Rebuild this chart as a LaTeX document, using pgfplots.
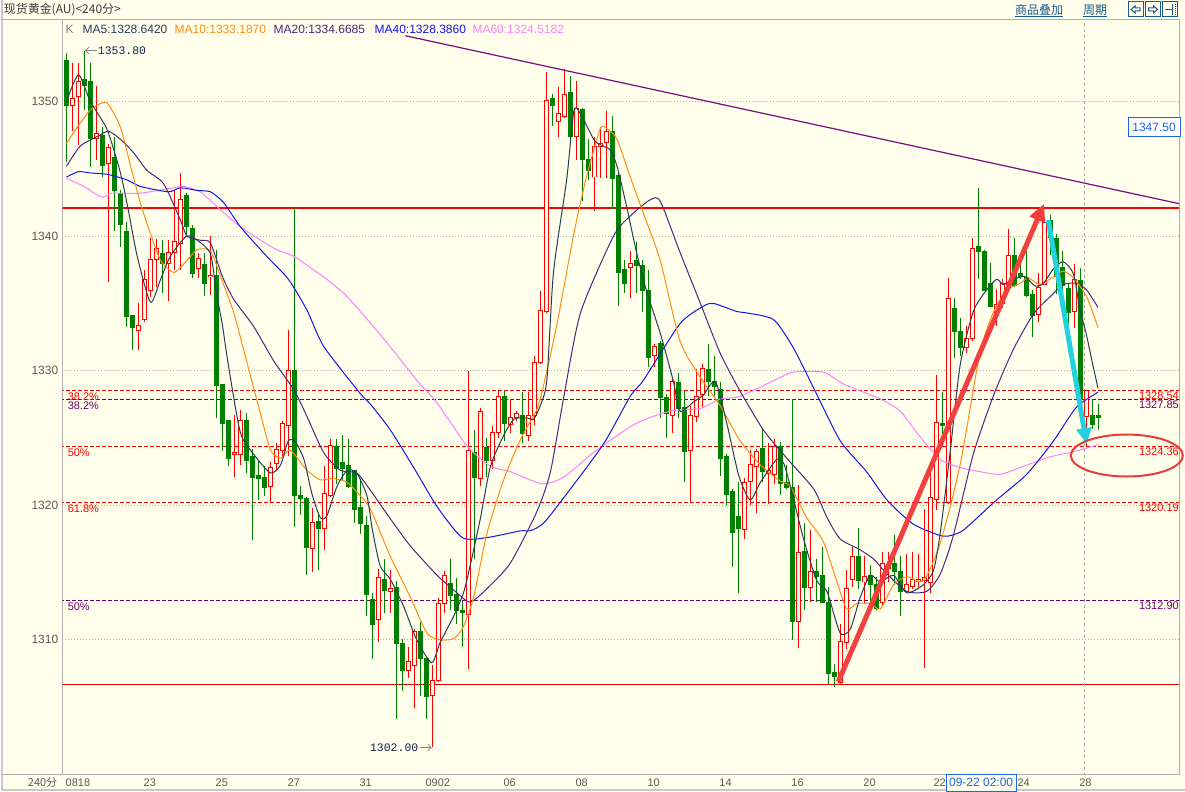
\documentclass[border=0pt]{standalone}
\usepackage{fontspec}
\setmainfont{Liberation Sans}
\newfontfamily\cjk{Noto Sans CJK SC}
\newfontfamily\mono{Liberation Mono}
\usepackage{pgfplots}
\pgfplotsset{compat=1.18}
\usepackage{pgfplotstable}
\usetikzlibrary{arrows.meta}

\definecolor{bg}{RGB}{255,255,236}
\definecolor{frame}{RGB}{200,200,200}
\definecolor{axgray}{RGB}{176,176,176}
\definecolor{tickgray}{RGB}{90,90,90}
\definecolor{up}{RGB}{255,0,0}
\definecolor{dn}{RGB}{0,128,0}
\definecolor{ma5}{RGB}{40,60,90}
\definecolor{ma10}{RGB}{255,140,20}
\definecolor{ma20}{RGB}{75,40,130}
\definecolor{ma40}{RGB}{20,20,235}
\definecolor{ma60}{RGB}{255,128,255}
\definecolor{lvpurple}{RGB}{110,0,110}
\definecolor{trend}{RGB}{125,10,125}
\definecolor{btn}{RGB}{25,90,140}
\definecolor{navy}{RGB}{15,35,80}
\definecolor{cursor}{RGB}{30,100,230}
\definecolor{arrowred}{RGB}{242,64,64}
\definecolor{cyanarrow}{RGB}{35,210,222}
\definecolor{hdr}{RGB}{60,60,60}

\newcommand\pxa{\fontsize{9}{10}\selectfont}
\newcommand\pxb{\fontsize{8.25}{9}\selectfont}

% 240-minute candles, red = close above open
\pgfplotstableread{
i o h l c
1 1349.70 1352.85 1347.85 1350.25
2 1350.37 1352.90 1346.78 1351.49
5 1347.28 1351.16 1345.67 1347.62
7 1345.37 1346.86 1336.58 1346.61
12 1332.98 1335.03 1331.57 1333.33
13 1333.84 1337.50 1333.59 1336.76
14 1336.00 1339.90 1335.50 1338.30
15 1338.29 1339.78 1336.26 1339.10
17 1338.00 1339.73 1335.15 1338.80
18 1338.81 1343.44 1337.50 1339.58
19 1339.48 1344.68 1337.50 1342.75
22 1337.62 1338.74 1336.88 1338.37
24 1337.00 1339.98 1335.64 1337.10
28 1323.80 1326.70 1322.10 1323.90
29 1323.80 1327.06 1322.96 1326.30
34 1321.37 1323.20 1320.14 1322.83
35 1323.10 1324.65 1322.65 1324.14
36 1324.10 1326.30 1323.70 1326.10
37 1325.95 1333.05 1323.70 1330.04
41 1316.78 1319.82 1315.07 1318.71
43 1318.28 1322.90 1316.67 1320.86
44 1320.70 1324.90 1320.60 1324.47
52 1311.52 1315.24 1309.86 1314.60
54 1313.60 1315.20 1312.00 1313.80
57 1307.75 1309.50 1307.20 1308.40
58 1308.10 1310.80 1304.90 1310.60
61 1305.90 1308.10 1302.00 1307.00
62 1307.00 1313.10 1306.90 1312.70
63 1312.70 1315.10 1312.00 1314.80
67 1311.90 1330.00 1307.80 1324.10
69 1322.00 1327.20 1321.40 1327.00
71 1323.30 1325.90 1322.70 1325.40
72 1325.40 1328.50 1325.00 1328.06
74 1326.00 1327.90 1325.40 1326.50
75 1326.50 1327.00 1326.30 1326.80
77 1325.20 1328.40 1324.80 1326.70
78 1326.70 1331.10 1326.00 1330.60
79 1330.60 1335.90 1330.50 1334.50
80 1334.40 1352.20 1334.30 1350.10
82 1348.50 1351.10 1347.40 1349.10
83 1348.90 1352.40 1348.80 1350.50
85 1347.40 1351.50 1345.70 1349.50
88 1344.40 1347.40 1341.90 1346.70
89 1346.70 1348.10 1344.30 1346.90
90 1347.00 1349.30 1344.30 1347.80
94 1337.70 1338.90 1335.40 1338.00
98 1331.10 1332.00 1330.30 1331.80
101 1326.70 1329.50 1325.40 1329.20
104 1324.10 1327.40 1320.20 1326.70
105 1326.60 1330.10 1326.20 1328.10
106 1328.20 1330.50 1327.30 1330.20
113 1318.20 1322.00 1317.50 1321.70
114 1321.80 1324.10 1320.00 1323.00
115 1322.90 1324.20 1319.40 1324.00
117 1322.40 1324.60 1320.10 1322.60
118 1322.30 1324.90 1321.60 1324.40
122 1311.40 1321.50 1309.40 1316.50
124 1313.90 1318.20 1312.80 1315.10
129 1306.80 1311.20 1306.70 1309.90
130 1309.80 1315.20 1309.30 1313.80
131 1314.50 1316.90 1313.90 1316.20
133 1314.30 1316.20 1312.70 1314.70
136 1312.80 1316.50 1312.60 1315.70
137 1315.30 1316.50 1314.30 1315.60
140 1313.60 1316.40 1313.50 1314.10
141 1314.00 1316.50 1313.80 1314.50
142 1314.30 1316.40 1313.90 1314.50
143 1314.40 1319.70 1307.90 1314.60
144 1314.24 1322.46 1313.50 1320.55
145 1320.43 1329.71 1319.67 1326.12
147 1320.20 1336.90 1320.10 1335.40
150 1331.70 1333.30 1331.30 1332.40
151 1332.40 1339.90 1332.20 1339.10
155 1334.10 1336.10 1333.30 1334.90
156 1335.00 1336.80 1334.70 1336.50
157 1336.40 1340.50 1336.30 1338.60
162 1334.20 1337.30 1333.60 1336.20
163 1336.40 1341.20 1336.40 1341.00
168 1334.40 1337.90 1333.20 1336.80
170 1326.60 1328.60 1324.40 1328.50
}\tabup

\pgfplotstableread{
i o h l c
0 1353.09 1353.59 1345.54 1349.70
3 1351.61 1353.80 1349.40 1351.19
4 1351.53 1352.85 1345.17 1347.28
6 1347.50 1348.14 1344.38 1345.25
8 1345.84 1347.35 1340.35 1343.37
9 1343.19 1343.44 1339.18 1340.84
10 1340.35 1341.09 1333.24 1334.04
11 1334.09 1334.10 1331.57 1333.22
16 1338.70 1339.73 1335.77 1338.00
20 1343.02 1343.19 1339.98 1340.72
21 1340.59 1340.84 1336.88 1337.25
23 1337.87 1338.74 1335.52 1336.51
25 1337.05 1339.00 1326.50 1328.90
26 1328.96 1329.00 1324.02 1326.07
27 1326.30 1326.30 1322.90 1323.45
30 1326.30 1326.87 1322.40 1323.30
31 1323.62 1324.15 1317.40 1322.10
32 1322.24 1323.40 1320.40 1322.00
33 1322.05 1322.90 1320.70 1321.30
38 1330.04 1342.13 1318.40 1320.76
39 1320.70 1321.40 1319.30 1320.50
40 1320.50 1320.65 1314.82 1316.85
42 1318.78 1319.45 1315.20 1318.30
45 1324.40 1324.94 1321.60 1322.70
46 1323.20 1325.25 1321.80 1322.70
47 1322.95 1324.94 1321.30 1321.41
48 1322.58 1322.65 1318.70 1319.68
49 1319.85 1321.80 1317.90 1318.65
50 1318.50 1319.20 1311.80 1313.37
51 1312.99 1313.50 1308.60 1311.13
53 1314.50 1315.98 1312.00 1313.70
55 1313.90 1314.40 1304.10 1309.70
56 1309.70 1310.10 1306.20 1307.70
59 1310.60 1311.30 1305.80 1308.60
60 1308.60 1308.60 1304.10 1305.80
64 1314.20 1316.00 1312.20 1313.30
65 1313.40 1314.60 1311.20 1312.20
66 1312.20 1312.90 1309.50 1312.00
68 1323.90 1325.60 1316.00 1322.10
70 1324.30 1325.00 1322.10 1323.30
73 1328.10 1328.50 1324.80 1326.10
76 1326.70 1328.40 1324.60 1325.30
81 1350.20 1350.60 1348.20 1349.70
84 1350.70 1351.90 1347.00 1347.40
86 1349.40 1349.50 1342.60 1345.70
87 1345.70 1347.20 1344.20 1344.90
91 1347.80 1348.90 1342.00 1344.30
92 1344.50 1344.70 1334.80 1337.30
93 1337.50 1338.20 1335.80 1336.50
95 1338.20 1339.60 1335.80 1337.80
96 1337.80 1338.20 1334.40 1336.00
97 1336.00 1337.50 1330.30 1331.00
99 1332.00 1332.20 1326.50 1328.00
100 1328.00 1328.30 1325.00 1326.80
102 1329.10 1329.80 1326.50 1327.20
103 1327.30 1328.50 1321.70 1324.00
107 1330.10 1332.00 1328.10 1329.20
108 1329.20 1331.10 1328.10 1328.80
109 1328.60 1329.20 1322.20 1323.50
110 1323.60 1323.80 1320.00 1320.80
111 1321.00 1321.20 1315.40 1318.00
112 1319.20 1321.70 1313.50 1318.30
116 1324.20 1325.70 1321.70 1322.50
119 1324.40 1324.70 1320.80 1321.60
120 1321.70 1323.00 1321.20 1321.30
121 1321.30 1327.90 1310.00 1311.40
123 1316.60 1318.70 1312.20 1313.90
125 1315.10 1316.00 1312.80 1314.70
126 1314.80 1316.90 1312.80 1312.80
127 1312.80 1313.90 1306.70 1307.50
128 1307.60 1308.20 1306.50 1307.30
132 1316.20 1318.30 1313.80 1314.40
134 1314.80 1315.60 1312.80 1314.10
135 1314.10 1314.70 1312.20 1312.30
138 1315.70 1317.80 1314.10 1315.10
139 1315.10 1316.20 1311.80 1313.60
146 1326.10 1328.40 1324.40 1325.95
148 1334.66 1335.40 1330.95 1332.93
149 1332.90 1333.90 1331.10 1331.70
152 1339.20 1343.60 1336.80 1338.90
153 1338.90 1339.00 1336.00 1336.00
154 1336.50 1338.00 1334.80 1334.80
158 1338.60 1339.90 1336.20 1336.30
159 1337.20 1338.00 1336.80 1337.00
160 1336.90 1338.90 1335.50 1335.60
161 1335.70 1336.00 1332.50 1334.10
164 1341.20 1341.60 1338.60 1339.90
165 1339.80 1340.20 1335.70 1337.00
166 1337.70 1338.90 1335.60 1336.30
167 1336.10 1336.50 1333.40 1334.30
169 1336.70 1337.60 1327.70 1327.90
171 1326.66 1327.80 1325.67 1325.99
172 1326.66 1327.55 1325.57 1326.49
}\tabdn

\begin{document}
\begin{tikzpicture}
% frame, drawn in pixel units (y downwards)
\begin{scope}[x=0.75pt,y=-0.75pt,shift={(0pt,593.25pt)}]
  \fill[bg] (0,0) rectangle (1185,791);
  \fill[frame] (0,0) rectangle (3,791);
  \fill[frame] (0,789) rectangle (1185,791);
  \draw[axgray,line width=0.75pt] (0,20) -- (1179,20);
  \draw[axgray,line width=0.75pt] (0,775) -- (1179,775);
\end{scope}

\begin{axis}[
  at={(46.5pt,12pt)}, anchor=south west,
  scale only axis, width=837.75pt, height=566.25pt,
  xmin=-0.667, xmax=185.5, ymin=1299.98, ymax=1356.07,
  axis line style={draw=axgray,line width=0.75pt},
  major tick length=0pt,
  ytick={1310,1320,1330,1340,1350},
  ymajorgrids,
  grid style={axgray,line width=0.75pt,dash pattern=on 0.75pt off 1.5pt},
  /pgf/number format/assume math mode=true,
  /pgf/number format/1000 sep={},
  yticklabel style={font=\pxa,text=tickgray,anchor=east,inner sep=0pt,xshift=-3pt},
  xtick={0,13,25,37,49,60,73,85,97,109,121,133,144.7,158.7,169},
  xticklabels={0818,23,25,27,31,0902,06,08,10,14,16,20,22,24,28},
  xticklabel style={font=\pxb,text=tickgray,anchor=west,inner sep=0pt,xshift=-0.75pt,yshift=-6pt},
]
% level lines
\addplot[up,line width=1pt,forget plot] coordinates {(-1,1342.1) (186,1342.1)};
\addplot[up!90!black,line width=0.75pt,forget plot] coordinates {(-1,1306.7) (186,1306.7)};
\addplot[up,line width=0.75pt,dash pattern=on 3pt off 1.5pt,forget plot] coordinates {(-1,1328.54) (186,1328.54)};
\addplot[lvpurple,line width=0.75pt,dash pattern=on 3pt off 1.5pt,forget plot] coordinates {(-1,1327.85) (186,1327.85)};
\addplot[up,line width=0.75pt,dash pattern=on 3pt off 1.5pt,forget plot] coordinates {(-1,1324.36) (186,1324.36)};
\addplot[up,line width=0.75pt,dash pattern=on 3pt off 1.5pt,forget plot] coordinates {(-1,1320.19) (186,1320.19)};
\addplot[lvpurple,line width=0.75pt,dash pattern=on 3pt off 1.5pt,forget plot] coordinates {(-1,1312.90) (186,1312.90)};
\addplot[gray!70,line width=0.75pt,dash pattern=on 2.25pt off 2.25pt,forget plot] coordinates {(169.67,1299) (169.67,1357)};

% wicks
\addplot[forget plot,draw=none,mark=none,error bars/.cd,y dir=plus,y explicit,error mark=none,
  error bar style={draw=up,line width=0.75pt}]
  table[x=i,y=l,y error expr={\thisrow{h}-\thisrow{l}}] {\tabup};
\addplot[forget plot,draw=none,mark=none,error bars/.cd,y dir=plus,y explicit,error mark=none,
  error bar style={draw=dn,line width=0.75pt}]
  table[x=i,y=l,y error expr={\thisrow{h}-\thisrow{l}}] {\tabdn};
% bodies
\addplot[forget plot,draw=none,mark=none,error bars/.cd,y dir=plus,y explicit,error mark=none,
  error bar style={draw=up,line width=3.75pt}]
  table[x=i,y expr={\thisrow{o}-0.037},y error expr={\thisrow{c}-\thisrow{o}+0.074}] {\tabup};
\addplot[forget plot,draw=none,mark=none,error bars/.cd,y dir=plus,y explicit,error mark=none,
  error bar style={draw=bg,line width=2.25pt}]
  table[x=i,y expr={\thisrow{o}+0.037},y error expr={max(\thisrow{c}-\thisrow{o}-0.074,0)}] {\tabup};
\addplot[forget plot,draw=none,mark=none,error bars/.cd,y dir=plus,y explicit,error mark=none,
  error bar style={draw=dn,line width=3.75pt}]
  table[x=i,y expr={\thisrow{c}-0.037},y error expr={\thisrow{o}-\thisrow{c}+0.074}] {\tabdn};

% moving averages
\addplot[ma60,line width=0.75pt,smooth,tension=0.4] coordinates {
(0,1344.3) (2.9,1343.7) (5.9,1342.9) (7.6,1343.2) (12.3,1343.2) (17.9,1343.6) (19.6,1343.7)
(22.3,1343.3) (25.1,1342.2) (29,1340.7) (34.6,1339.1) (37.9,1338.5) (41.2,1337.5) (43.4,1336.8)
(46.8,1335.5) (52.3,1332.7) (58.4,1329.3) (61.8,1327.6) (66.8,1324.4) (70.7,1322.9) (74,1322.5)
(79.3,1321.6) (82.9,1322.1) (88.4,1324.1) (95,1326.1) (100.7,1327.0) (105.7,1327.2) (109,1327.9)
(112.3,1328.1) (119,1329.5) (121.2,1329.9) (126.2,1329.9) (129.6,1329.0) (135.7,1327.9) (139,1327.0)
(142.3,1325.1) (145.7,1323.4) (149,1322.8) (152.3,1322.5) (155.7,1322.3) (159.6,1322.9) (164,1323.6)
(168,1324.0) (172,1324.5)};
\addplot[ma40,line width=0.75pt,smooth,tension=0.4] coordinates {
(0,1344.4) (2,1344.8) (4,1344.7) (6.8,1344.6) (10,1344.2) (12.3,1343.7) (17,1343.3) (19,1343.6)
(21.8,1343.4) (24,1343.3) (26.2,1342.5) (29,1340.7) (33.4,1338.5) (37,1336.8) (40.1,1334.5)
(42.9,1331.8) (49,1328.3) (50.7,1327.5) (54,1325.6) (57.9,1322.8) (61.8,1319.9) (66,1317.6)
(70.1,1317.6) (75.7,1318.1) (77.3,1318.1) (79.6,1318.7) (84,1321.2) (89.6,1324.6) (94,1328.1)
(96.2,1329.3) (102.3,1333.5) (106.2,1334.8) (107.9,1335.0) (111.8,1334.4) (113.4,1334.3)
(117.9,1333.8) (121.2,1331.7) (124.6,1328.7) (129,1324.8) (133.4,1322.5) (136.8,1320.4)
(141.2,1318.6) (146.2,1317.7) (149,1318.0) (150.7,1318.6) (155.1,1320.4) (160.1,1322.3)
(164.6,1324.8) (168.4,1327.3) (172,1328.4)};
\addplot[ma20,line width=0.75pt,smooth,tension=0.4] coordinates {
(0,1345.2) (2.3,1346.7) (5.1,1347.4) (7,1347.8) (9,1347.2) (11.2,1346.2) (13.4,1344.9) (16.2,1343.9)
(19,1341.2) (20.1,1340.0) (22.3,1339.7) (24,1339.5) (26,1337.0) (27.9,1335.3) (31.2,1333.3)
(34.6,1330.7) (37.9,1328.6) (40.1,1326.6) (42.9,1323.9) (45.7,1322.6) (48.4,1322.4) (50.7,1321.1)
(54,1319.0) (57.3,1317.0) (61.8,1314.8) (65.1,1313.5) (67.3,1312.8) (70.1,1313.8) (74,1315.7)
(78.4,1319.5) (80.7,1322.5) (82.9,1328.0) (85.7,1334.3) (91.2,1340.0) (94,1341.5) (97.3,1342.7)
(99,1342.6) (102.3,1338.8) (105.7,1335.0) (109,1331.3) (112.3,1328.5) (116.2,1325.6) (120.1,1323.5)
(124.6,1321.2) (126.8,1319.1) (129,1317.5) (132.3,1316.7) (134.6,1316.0) (136.8,1314.9)
(140.1,1313.6) (143.4,1313.6) (145.7,1314.9) (147.9,1317.8) (151.2,1323.8) (154.6,1328.2)
(157.9,1331.6) (161.2,1334.2) (164,1335.5) (166.2,1336.4) (168.4,1336.5) (170.1,1336.0) (172,1334.7)};
\addplot[ma10,line width=0.75pt,smooth,tension=0.4] coordinates {
(0,1346.9) (1.8,1348.1) (4,1349.4) (5.9,1349.9) (7,1349.8) (9,1348.1) (10.7,1345.2) (12.3,1342.5)
(14,1340.2) (15.7,1338.2) (17.9,1337.3) (20.1,1338.2) (21.8,1339.0) (24,1338.9) (25.7,1337.0)
(27.9,1334.3) (30.1,1330.6) (32.3,1326.9) (34,1324.1) (35.7,1323.5) (37.3,1324.1) (40.1,1322.6)
(42.3,1321.9) (44.6,1322.0) (46.8,1321.7) (49,1320.7) (50.7,1319.7) (54,1316.2) (57.3,1313.2)
(60.1,1310.5) (62.3,1310.0) (64.6,1310.1) (66.2,1311.0) (67.9,1313.2) (70.1,1317.9) (72.9,1321.9)
(75.7,1324.9) (78.4,1327.1) (79.6,1329.0) (81.8,1333.5) (84.6,1340.2) (86.7,1344.4) (89,1348.0)
(90.1,1348.0) (91.8,1347.2) (94,1344.4) (96.2,1341.7) (99,1338.2) (102.3,1332.2) (105.7,1329.5)
(109,1327.4) (112.3,1324.8) (115.7,1323.0) (119,1321.8) (120.7,1321.4) (123.4,1319.1) (126.2,1317.3)
(128.4,1314.4) (130.1,1312.3) (131.8,1312.7) (134,1312.7) (135.7,1312.3) (137.9,1314.1)
(140.1,1314.7) (142.9,1314.4) (145.7,1317.2) (149,1323.0) (152.3,1331.3) (154.6,1334.4)
(156.8,1336.0) (159,1336.5) (160.4,1336.9) (162.3,1336.4) (164.6,1337.0) (166.2,1337.4)
(167.9,1336.9) (170.1,1335.5) (172,1333.2)};
\addplot[ma5,line width=0.75pt,smooth,tension=0.4] coordinates {
(0,1350.0) (2,1352.0) (4,1350.0) (6.8,1347.9) (9,1344.7) (10.2,1342.2) (11.8,1338.5) (14,1335.1)
(15.7,1336.8) (17.3,1338.5) (20,1340.0) (21.8,1339.7) (24,1338.7) (25,1335.8) (26,1333.4)
(27,1330.4) (29,1325.4) (31.2,1323.8) (34,1322.4) (35.7,1323.0) (37,1324.8) (38.2,1324.7)
(39.6,1323.4) (40.9,1320.9) (42.3,1319.1) (43.4,1319.2) (45.1,1321.4) (46.8,1322.6) (48.4,1322.4)
(50.1,1320.7) (51,1318.2) (52.3,1315.5) (54,1314.5) (56.2,1312.5) (58.4,1310.0) (60.9,1308.3)
(62.3,1309.8) (64.6,1311.8) (66.2,1313.5) (67.3,1315.5) (69,1319.0) (70.7,1322.9) (72.9,1325.2)
(74.6,1326.4) (76.8,1326.5) (77.9,1326.4) (79,1327.4) (80.1,1329.3) (81.2,1337.3) (83.4,1344.2)
(84.6,1349.3) (85.7,1349.1) (87.9,1347.2) (89,1346.8) (90.7,1346.4) (91.8,1345.2) (93.4,1342.2)
(95.1,1338.7) (96.8,1335.8) (99,1332.8) (101.2,1329.2) (102.3,1327.0) (104.6,1327.7) (106.2,1328.2)
(108.2,1329.2) (110.1,1326.1) (112.1,1322.2) (114,1320.4) (115.7,1321.7) (118.4,1323.4)
(119.6,1323.1) (120.7,1321.4) (122.9,1317.5) (125.1,1314.4) (126.8,1313.6) (129,1310.5)
(130.7,1310.8) (132.3,1313.1) (134,1314.8) (135.7,1314.3) (137.9,1314.8) (140.1,1313.5)
(142.9,1314.1) (144.6,1315.2) (145.7,1318.0) (147.3,1323.8) (149,1330.4) (151.2,1334.4)
(153.4,1336.0) (155.1,1336.8) (156.2,1336.4) (157.9,1336.8) (159.8,1337.0) (161.5,1336.3)
(162.9,1336.5) (164.6,1337.6) (166.2,1338.1) (167.9,1337.2) (169,1334.5) (170,1332.8)
(171,1330.7) (172,1328.7)};

% trend line and arrows
\addplot[trend,line width=0.9pt] coordinates {(56.5,1354.9) (185.7,1342.4)};
\addplot[arrowred,line width=3.75pt,-{Triangle[length=13pt,width=12pt]}] coordinates {(128.7,1306.9) (163,1342.4)};
\addplot[cyanarrow,line width=3.75pt,-{Triangle[length=12pt,width=11pt]}] coordinates {(163.7,1341.2) (170.1,1324.55)};

% level labels
\node[anchor=north west,inner sep=0pt,font=\pxb,text=up,yshift=-1.5pt] at (axis cs:0.17,1328.54) {38.2\%};
\node[anchor=north west,inner sep=0pt,font=\pxb,text=lvpurple,yshift=-1.5pt] at (axis cs:0.17,1327.85) {38.2\%};
\node[anchor=north west,inner sep=0pt,font=\pxb,text=up,yshift=-1.5pt] at (axis cs:0.17,1324.36) {50\%};
\node[anchor=north west,inner sep=0pt,font=\pxb,text=up,yshift=-1.5pt] at (axis cs:0.17,1320.19) {61.8\%};
\node[anchor=north west,inner sep=0pt,font=\pxb,text=lvpurple,yshift=-1.5pt] at (axis cs:0.17,1312.90) {50\%};
\node[anchor=north east,inner sep=0pt,font=\pxb,text=up,yshift=-0.75pt] at (axis cs:185.5,1328.54) {1328.54};
\node[anchor=north east,inner sep=0pt,font=\pxb,text=lvpurple,yshift=-0.75pt] at (axis cs:185.5,1327.85) {1327.85};
\node[anchor=north east,inner sep=0pt,font=\pxb,text=up,yshift=-0.75pt] at (axis cs:185.5,1324.36) {1324.36};
\node[anchor=north east,inner sep=0pt,font=\pxb,text=up,yshift=-0.75pt] at (axis cs:185.5,1320.19) {1320.19};
\node[anchor=north east,inner sep=0pt,font=\pxb,text=lvpurple,yshift=-0.75pt] at (axis cs:185.5,1312.90) {1312.90};

% extremes
\draw[gray,line width=0.6pt,-{Straight Barb[length=2.5pt]}] (axis cs:5.1,1353.8) -- (axis cs:3.1,1353.8);
\node[anchor=west,inner sep=0pt,font=\mono\fontsize{8.6}{10}\selectfont,text=navy] at (axis cs:5.2,1353.8) {1353.80};
\draw[gray,line width=0.6pt,-{Straight Barb[length=2.5pt]}] (axis cs:58.9,1302.0) -- (axis cs:60.9,1302.0);
\node[anchor=east,inner sep=0pt,font=\mono\fontsize{8.6}{10}\selectfont,text=navy] at (axis cs:58.7,1302.0) {1302.00};

\coordinate (ell) at (axis cs:176.8,1323.7);
\end{axis}

\draw[arrowred!95!black,line width=1.5pt] (ell) ellipse [x radius=42pt,y radius=15.75pt];

% header, legend row and overlays in pixel units
\begin{scope}[x=0.75pt,y=-0.75pt,shift={(0pt,593.25pt)}]
  \node[anchor=west,inner sep=0pt,font=\cjk\pxa,text=hdr] at (3,10) {现货黄金(AU)<240分>};
  \node[inner sep=0pt,font=\cjk\pxa,text=btn] at (1039,10) {商品叠加};
  \draw[btn,line width=0.75pt] (1015,17) -- (1063,17);
  \node[inner sep=0pt,font=\cjk\pxa,text=btn] at (1095,10) {周期};
  \draw[btn,line width=0.75pt] (1083,17) -- (1107,17);
  \draw[btn,line width=0.75pt] (1128,2) rectangle (1143,17);
  \draw[btn,line width=0.75pt] (1145.5,2) rectangle (1160.5,17);
  \draw[btn,line width=0.75pt] (1162.5,2) rectangle (1177.5,17);
  \draw[btn,line width=0.75pt] (1131,9.5) -- (1135,6) -- (1135,8) -- (1140,8) -- (1140,11) -- (1135,11) -- (1135,13) -- cycle;
  \draw[btn,line width=0.75pt] (1157.5,9.5) -- (1153.5,6) -- (1153.5,8) -- (1148.5,8) -- (1148.5,11) -- (1153.5,11) -- (1153.5,13) -- cycle;
  \draw[btn,line width=0.75pt] (1165,9.5) -- (1172,9.5) (1172,4) -- (1172,15);
  \draw[btn,line width=0.75pt,dash pattern=on 0.75pt off 0.75pt] (1175,4) -- (1175,15);

  \node[anchor=west,inner sep=0pt,font=\pxa,text=gray] at (65,29) {K};
  \node[anchor=west,inner sep=0pt,font=\pxa,text=ma5] at (82,29) {MA5:1328.6420};
  \node[anchor=west,inner sep=0pt,font=\pxa,text=ma10] at (174,29) {MA10:1333.1870};
  \node[anchor=west,inner sep=0pt,font=\pxa,text=ma20] at (273,29) {MA20:1334.6685};
  \node[anchor=west,inner sep=0pt,font=\pxa,text=ma40] at (374,29) {MA40:1328.3860};
  \node[anchor=west,inner sep=0pt,font=\pxa,text=ma60] at (472,29) {MA60:1324.5182};

  \node[anchor=east,inner sep=0pt,font=\cjk\pxb,text=tickgray] at (57,783) {240分};
  \node[draw=cursor,fill=bg,text=cursor,font=\pxa,inner sep=0pt,line width=0.75pt,
        minimum width=52.5pt,minimum height=12.75pt] at (981,783) {09-22 02:00};
  \node[draw=cursor,fill=white,text=cursor,font=\pxa,inner sep=0pt,line width=0.75pt,
        minimum width=39pt,minimum height=14.25pt] at (1154,127) {1347.50};
\end{scope}
\end{tikzpicture}
\end{document}
